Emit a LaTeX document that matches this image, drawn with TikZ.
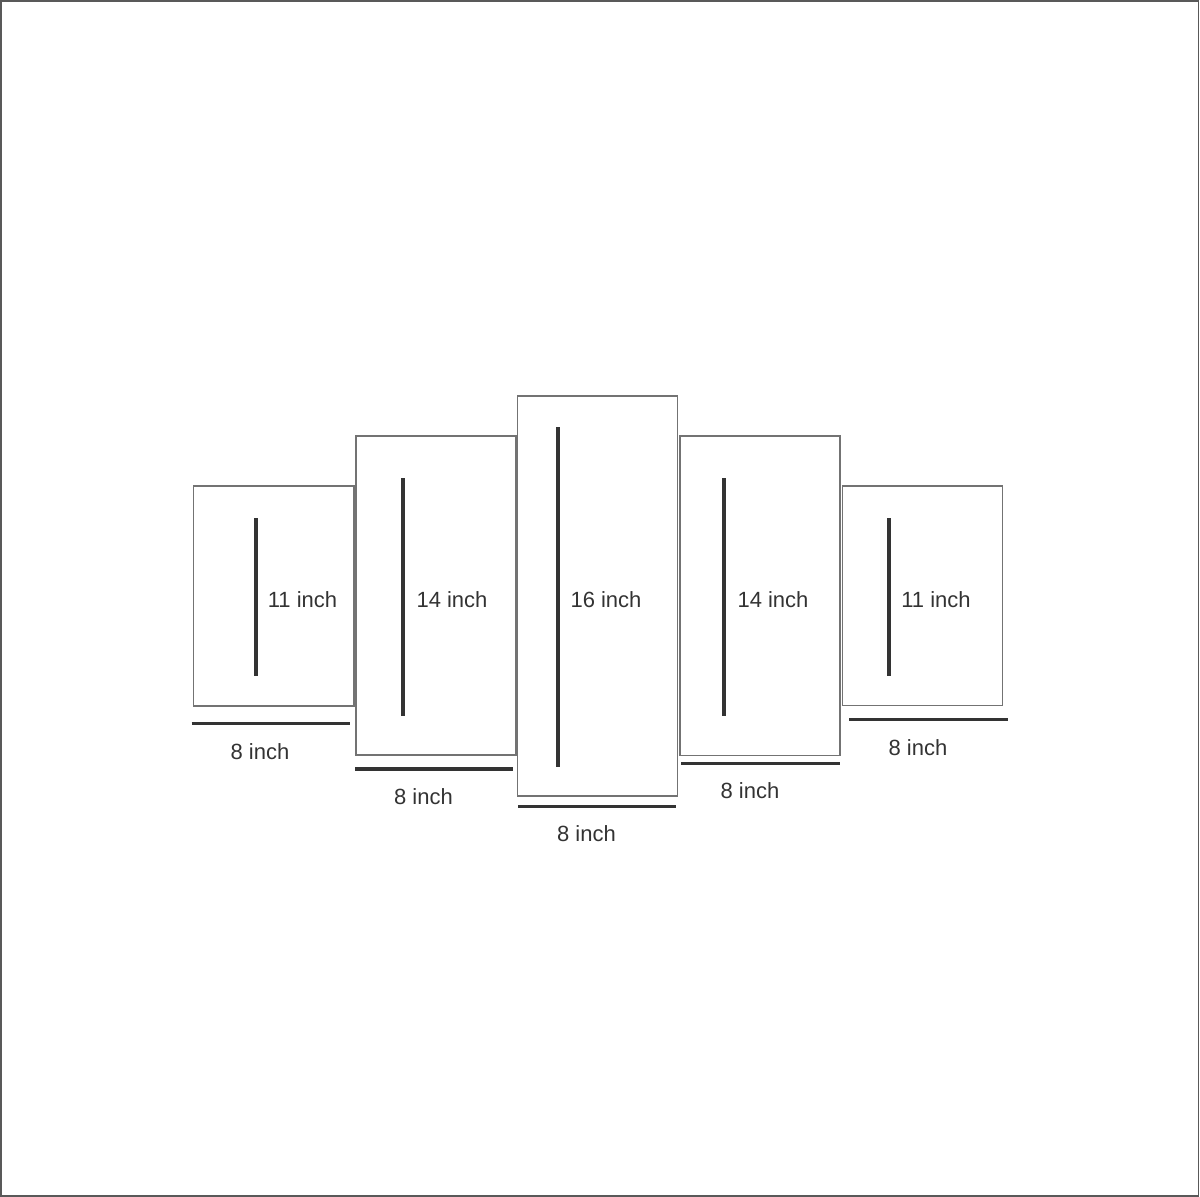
\documentclass[tikz,border=0pt]{standalone}
\usepackage{fontspec}
\setmainfont{Liberation Sans}
\begin{document}
\begin{tikzpicture}[x=1pt,y=-1pt,
  panel/.style={draw=black!55,line width=1.2pt},
  dimline/.style={draw=black!80,line width=3.2pt},
  lbl/.style={font=\fontsize{22}{26}\selectfont,text=black!80,inner sep=0pt}]
\useasboundingbox (0,0) rectangle (1200,1197);
\draw[draw=black!65,line width=1.8pt] (1.2,1.2) rectangle (1198.5,1196);
% panels
\draw[panel] (193.5,486) rectangle (354,706);
\draw[panel] (356,436) rectangle (516,755);
\draw[panel] (517.5,396) rectangle (677.5,796);
\draw[panel] (680,436) rectangle (840,755.5);
\draw[panel] (842.5,486) rectangle (1002.5,705.5);
% height lines
\coordinate (h1a) at (256,518); \coordinate (h1b) at (256,676);
\coordinate (h2a) at (403,478); \coordinate (h2b) at (403,716);
\coordinate (h3a) at (558,427); \coordinate (h3b) at (558,767);
\coordinate (h4a) at (724,478); \coordinate (h4b) at (724,716);
\coordinate (h5a) at (889,518); \coordinate (h5b) at (889,676);
\draw[dimline] (h1a) -- (h1b);
\draw[dimline] (h2a) -- (h2b);
\draw[dimline] (h3a) -- (h3b);
\draw[dimline] (h4a) -- (h4b);
\draw[dimline] (h5a) -- (h5b);
% width lines
\coordinate (w1a) at (191.5,723.5); \coordinate (w1b) at (349.5,723.5);
\coordinate (w2a) at (355,769); \coordinate (w2b) at (513,769);
\coordinate (w3a) at (518,806.5); \coordinate (w3b) at (676,806.5);
\coordinate (w4a) at (681,763.5); \coordinate (w4b) at (839.5,763.5);
\coordinate (w5a) at (849,719.5); \coordinate (w5b) at (1007.5,719.5);
\draw[dimline] (w1a) -- (w1b);
\draw[dimline] (w2a) -- (w2b);
\draw[dimline] (w3a) -- (w3b);
\draw[dimline] (w4a) -- (w4b);
\draw[dimline] (w5a) -- (w5b);
% labels
\node[lbl] (t1) at (302.5,600) {11 inch};
\node[lbl] (t2) at (452,600) {14 inch};
\node[lbl] (t3) at (606,600) {16 inch};
\node[lbl] (t4) at (773,600) {14 inch};
\node[lbl] (t5) at (936,600) {11 inch};
\node[lbl] (b1) at (260,751.5) {8 inch};
\node[lbl] (b2) at (423.5,796.5) {8 inch};
\node[lbl] (b3) at (586.5,834) {8 inch};
\node[lbl] (b4) at (750,791) {8 inch};
\node[lbl] (b5) at (918,747.5) {8 inch};
\end{tikzpicture}
\end{document}
